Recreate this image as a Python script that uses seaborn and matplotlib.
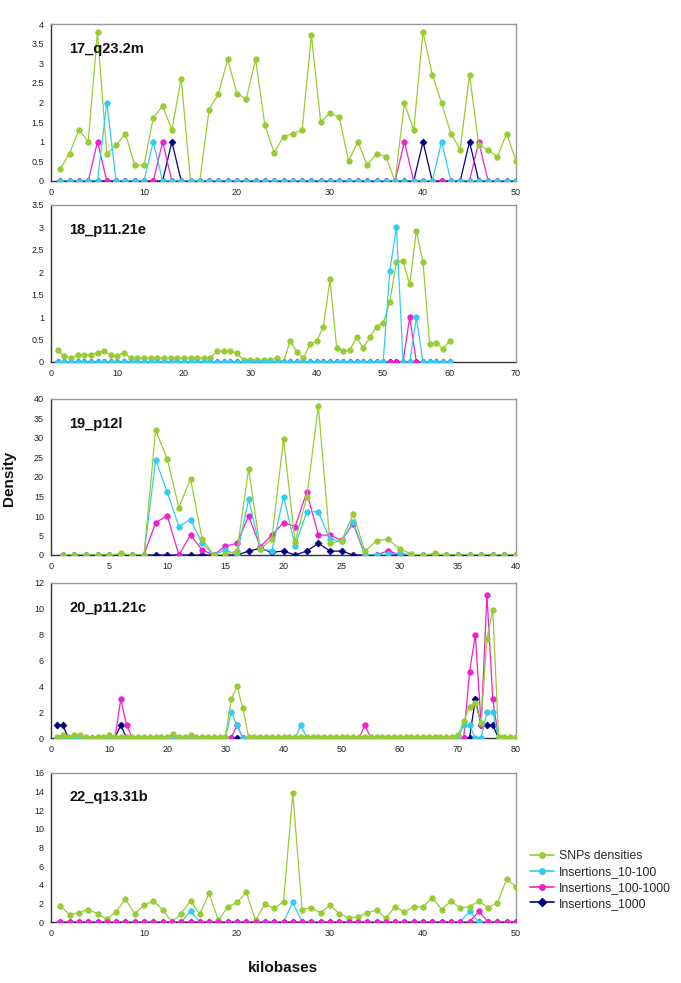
import numpy as np
import matplotlib
matplotlib.use("Agg")
import matplotlib.pyplot as plt
from matplotlib.lines import Line2D
from matplotlib.ticker import FuncFormatter
import seaborn as sns

sns.set_style("white")
plt.rcParams['font.family'] = ['Liberation Sans', 'DejaVu Sans']

# ---- data ----
series_names = ['SNPs densities', 'Insertions_10-100', 'Insertions_100-1000', 'Insertions_1000']
series_colors = ['#99cc33', '#33ccee', '#ee22cc', '#000080']
series_markers = ['o', 'o', 'o', 'D']

# 17_q23.2m  (x = 1..50)
p17_snp = [0.31, 0.7, 1.31, 1.0, 3.8, 0.7, 0.91, 1.21, 0.4, 0.4,
           1.61, 1.91, 1.31, 2.6, 0, 0, 1.82, 2.22, 3.1, 2.22,
           2.1, 3.1, 1.42, 0.72, 1.13, 1.21, 1.3, 3.72, 1.5, 1.73,
           1.62, 0.51, 1.0, 0.4, 0.7, 0.62, 0, 1.98, 1.3, 3.8,
           2.71, 1.98, 1.21, 0.8, 2.71, 0.91, 0.8, 0.62, 1.21, 0.51]
p17_ins10 = [0, 0, 0, 0, 0, 2, 0, 0, 0, 0,
             1, 0, 0, 0, 0, 0, 0, 0, 0, 0,
             0, 0, 0, 0, 0, 0, 0, 0, 0, 0,
             0, 0, 0, 0, 0, 0, 0, 0, 0, 0,
             0, 1, 0, 0, 0, 0, 0, 0, 0, 0]
p17_ins100 = [0, 0, 0, 0, 1, 0, 0, 0, 0, 0,
              0, 1, 0, 0, 0, 0, 0, 0, 0, 0,
              0, 0, 0, 0, 0, 0, 0, 0, 0, 0,
              0, 0, 0, 0, 0, 0, 0, 1, 0, 0,
              0, 0, 0, 0, 0, 1, 0, 0, 0, 0]
p17_ins1000 = [0, 0, 0, 0, 0, 0, 0, 0, 0, 0,
               0, 0, 1, 0, 0, 0, 0, 0, 0, 0,
               0, 0, 0, 0, 0, 0, 0, 0, 0, 0,
               0, 0, 0, 0, 0, 0, 0, 0, 0, 1,
               0, 0, 0, 0, 1, 0, 0, 0, 0, 0]

# 18_p11.21e  (x = 1..60)
p18_snp = [0.26, 0.13, 0.09, 0.16, 0.16, 0.16, 0.21, 0.24, 0.16, 0.14,
           0.21, 0.09, 0.09, 0.09, 0.09, 0.09, 0.09, 0.09, 0.09, 0.09,
           0.09, 0.09, 0.09, 0.09, 0.24, 0.24, 0.24, 0.2, 0.04, 0.04,
           0.05, 0.04, 0.04, 0.09, 0, 0.47, 0.23, 0.08, 0.4, 0.46,
           0.79, 1.84, 0.32, 0.24, 0.27, 0.55, 0.31, 0.55, 0.79, 0.87,
           1.33, 2.24, 2.25, 1.73, 2.92, 2.22, 0.41, 0.42, 0.3, 0.46]
p18_ins10 = [0, 0, 0, 0, 0, 0, 0, 0, 0, 0,
             0, 0, 0, 0, 0, 0, 0, 0, 0, 0,
             0, 0, 0, 0, 0, 0, 0, 0, 0, 0,
             0, 0, 0, 0, 0, 0, 0, 0, 0, 0,
             0, 0, 0, 0, 0, 0, 0, 0, 0, 0,
             2.03, 3.0, 0, 0, 1.0, 0, 0, 0, 0, 0]
p18_ins100 = [0, 0, 0, 0, 0, 0, 0, 0, 0, 0,
              0, 0, 0, 0, 0, 0, 0, 0, 0, 0,
              0, 0, 0, 0, 0, 0, 0, 0, 0, 0,
              0, 0, 0, 0, 0, 0, 0, 0, 0, 0,
              0, 0, 0, 0, 0, 0, 0, 0, 0, 0,
              0, 0, 0, 1.0, 0, 0, 0, 0, 0, 0]
p18_ins1000 = [0, 0, 0, 0, 0, 0, 0, 0, 0, 0,
               0, 0, 0, 0, 0, 0, 0, 0, 0, 0,
               0, 0, 0, 0, 0, 0, 0, 0, 0, 0,
               0, 0, 0, 0, 0, 0, 0, 0, 0, 0,
               0, 0, 0, 0, 0, 0, 0, 0, 0, 0,
               0, 0, 0, 0, 0, 0, 0, 0, 0, 0]

# 19_p12l  (x = 1..40)
p19_snp = [0, 0, 0, 0, 0, 0.4, 0, 0, 32.0, 24.6,
           12.1, 19.6, 4.1, 0, 0.2, 1.0, 22.1, 1.5, 4.1, 29.7,
           3.4, 14.8, 38.2, 3.0, 3.7, 10.5, 0.9, 3.7, 4.0, 1.6,
           0.2, 0, 0.4, 0, 0, 0, 0, 0, 0, 0]
p19_ins10 = [0, 0, 0, 0, 0, 0, 0, 0, 24.4, 16.1,
             7.3, 9.1, 3.0, 0, 1.3, 0, 14.3, 1.5, 1.1, 15.0,
             2.3, 11.1, 11.1, 4.0, 3.7, 8.4, 0, 0, 0.2, 0.5,
             0, 0, 0, 0, 0, 0, 0, 0, 0, 0]
p19_ins100 = [0, 0, 0, 0, 0, 0, 0, 0, 8.3, 10.1,
              0, 5.1, 1.3, 0, 2.3, 3.0, 10.0, 2.1, 5.1, 8.3,
              7.3, 16.1, 5.1, 5.1, 3.8, 8.0, 0, 0, 1.1, 0,
              0, 0, 0, 0, 0, 0, 0, 0, 0, 0]
p19_ins1000 = [0, 0, 0, 0, 0, 0, 0, 0, 0, 0,
               0, 0, 0, 0, 0, 0, 1.0, 1.7, 0.7, 1.0,
               0, 1.0, 3.0, 1.0, 1.0, 0, 0, 0, 0, 0,
               0, 0, 0, 0, 0, 0, 0, 0, 0, 0]

# 20_p11.21c  (x = 1..80)
p20_snp = [0.1, 0.2, 0.1, 0.2, 0.2, 0.1, 0, 0.1, 0.1, 0.2,
           0.1, 0.1, 0.1, 0.1, 0.1, 0.1, 0.1, 0.1, 0.1, 0.1,
           0.3, 0.1, 0.1, 0.2, 0.1, 0.1, 0.1, 0.1, 0.1, 0.1,
           3.0, 4.0, 2.3, 0.1, 0.1, 0.1, 0.1, 0.1, 0.1, 0.1,
           0.1, 0.1, 0.1, 0.1, 0.1, 0.1, 0.1, 0.1, 0.1, 0.1,
           0.1, 0.1, 0.1, 0.1, 0.1, 0.1, 0.1, 0.1, 0.1, 0.1,
           0.1, 0.1, 0.1, 0.1, 0.1, 0.1, 0.1, 0.1, 0.1, 0.2,
           1.3, 2.4, 2.7, 1.2, 7.7, 9.9, 0.1, 0.1, 0.1, 0.1]
p20_ins10 = [0, 0, 0, 0, 0, 0, 0, 0, 0, 0,
             0, 0, 0, 0, 0, 0, 0, 0, 0, 0,
             0, 0, 0, 0, 0, 0, 0, 0, 0, 0,
             2.0, 1.0, 0, 0, 0, 0, 0, 0, 0, 0,
             0, 0, 1.0, 0, 0, 0, 0, 0, 0, 0,
             0, 0, 0, 0, 0, 0, 0, 0, 0, 0,
             0, 0, 0, 0, 0, 0, 0, 0, 0, 0,
             1.0, 1.0, 0, 0, 2.0, 2.0, 0, 0, 0, 0]
p20_ins100 = [0, 0, 0, 0, 0, 0, 0, 0, 0, 0,
              0, 3.0, 1.0, 0, 0, 0, 0, 0, 0, 0,
              0, 0, 0, 0, 0, 0, 0, 0, 0, 0,
              0, 1.0, 0, 0, 0, 0, 0, 0, 0, 0,
              0, 0, 0, 0, 0, 0, 0, 0, 0, 0,
              0, 0, 0, 1.0, 0, 0, 0, 0, 0, 0,
              0, 0, 0, 0, 0, 0, 0, 0, 0, 0,
              0, 5.1, 8.0, 1.0, 11.1, 3.0, 0, 0, 0, 0]
p20_ins1000 = [1.0, 1.0, 0, 0, 0, 0, 0, 0, 0, 0,
               0, 1.0, 0, 0, 0, 0, 0, 0, 0, 0,
               0, 0, 0, 0, 0, 0, 0, 0, 0, 0,
               0, 0, 0, 0, 0, 0, 0, 0, 0, 0,
               0, 0, 0, 0, 0, 0, 0, 0, 0, 0,
               0, 0, 0, 0, 0, 0, 0, 0, 0, 0,
               0, 0, 0, 0, 0, 0, 0, 0, 0, 0,
               0, 0, 3.0, 1.0, 1.0, 1.0, 0, 0, 0, 0]

# 22_q13.31b  (x = 1..50)
p22_snp = [1.7, 0.8, 1.0, 1.34, 0.9, 0.29, 1.12, 2.46, 0.9, 1.8,
           2.24, 1.34, 0, 0.9, 2.28, 0.83, 3.07, 0.18, 1.63, 2.1,
           3.18, 0.18, 1.92, 1.45, 2.17, 13.8, 1.34, 1.52, 1.0, 1.8,
           0.9, 0.47, 0.54, 1.0, 1.27, 0.43, 1.63, 1.08, 1.63, 1.63,
           2.6, 1.34, 2.24, 1.52, 1.63, 2.24, 1.52, 2.06, 4.6, 3.8]
p22_ins10 = [0, 0, 0, 0, 0, 0, 0, 0, 0, 0,
             0, 0, 0, 0, 1.16, 0, 0, 0, 0, 0,
             0, 0, 0, 0, 0, 2.1, 0, 0, 0, 0,
             0, 0, 0, 0, 0, 0, 0, 0, 0, 0,
             0, 0, 0, 0, 1.16, 0, 0, 0, 0, 0]
p22_ins100 = [0, 0, 0, 0, 0, 0, 0, 0, 0, 0,
              0, 0, 0, 0, 0, 0, 0, 0, 0, 0,
              0, 0, 0, 0, 0, 0, 0, 0, 0, 0,
              0, 0, 0, 0, 0, 0, 0, 0, 0, 0,
              0, 0, 0, 0, 0, 1.16, 0, 0, 0, 0]
p22_ins1000 = [0, 0, 0, 0, 0, 0, 0, 0, 0, 0,
               0, 0, 0, 0, 0, 0, 0, 0, 0, 0,
               0, 0, 0, 0, 0, 0, 0, 0, 0, 0,
               0, 0, 0, 0, 0, 0, 0, 0, 0, 0,
               0, 0, 0, 0, 0, 0, 0, 0, 0, 0]

panel_titles = ['17_q23.2m', '18_p11.21e', '19_p12l', '20_p11.21c', '22_q13.31b']
panel_series = [
    [p17_snp, p17_ins10, p17_ins100, p17_ins1000],
    [p18_snp, p18_ins10, p18_ins100, p18_ins1000],
    [p19_snp, p19_ins10, p19_ins100, p19_ins1000],
    [p20_snp, p20_ins10, p20_ins100, p20_ins1000],
    [p22_snp, p22_ins10, p22_ins100, p22_ins1000],
]
panel_xmax = [50, 70, 40, 80, 50]
panel_xstep = [10, 10, 5, 10, 10]
panel_ymax = [4, 3.5, 40, 12, 16]
panel_ystep = [0.5, 0.5, 5, 2, 2]
# which series sits on top along the zero line
panel_top = [1, 1, 0, 0, 2]

# axes boxes in pixels (top, bottom)
W, H = 681, 983
panel_px = [(24, 181), (205, 362), (399, 555), (583, 738), (773, 922)]
left_px, right_px = 51, 516

fig = plt.figure(figsize=(W / 100, H / 100), dpi=100)
fmt = FuncFormatter(lambda v, p: '{:g}'.format(v))

for i, (top, bot) in enumerate(panel_px):
    ax = fig.add_axes([left_px / W, 1 - bot / H, (right_px - left_px) / W, (bot - top) / H])
    series = panel_series[i]
    for k, vals in enumerate(series):
        xs = np.arange(1, len(vals) + 1)
        z = 5 if k == panel_top[i] else 3 - k * 0.1
        sns.lineplot(x=xs, y=vals, ax=ax, color=series_colors[k],
                     marker=series_markers[k], markersize=4 if k < 3 else 3.5,
                     markeredgecolor=series_colors[k], markeredgewidth=0.5,
                     linewidth=0.9, errorbar=None, legend=False, zorder=z)
    ax.set_xlim(0, panel_xmax[i])
    ax.set_ylim(0, panel_ymax[i])
    ax.set_xticks(np.arange(0, panel_xmax[i] + 0.01, panel_xstep[i]))
    ax.set_yticks(np.arange(0, panel_ymax[i] + 0.001, panel_ystep[i]))
    ax.yaxis.set_major_formatter(fmt)
    ax.set_xlabel('')
    ax.set_ylabel('')
    ax.tick_params(axis='both', direction='out', length=3, width=0.8,
                   labelsize=6.5, colors='#222222', pad=2)
    for s in ['top', 'right']:
        ax.spines[s].set_color('#999999')
        ax.spines[s].set_linewidth(1.0)
    for s in ['left', 'bottom']:
        ax.spines[s].set_color('#333333')
        ax.spines[s].set_linewidth(1.0)
    ax.spines['bottom'].set_zorder(1)
    ax.text(0.04, 0.84, panel_titles[i], transform=ax.transAxes,
            fontsize=10.5, fontweight='bold', ha='left', va='center', color='#111111')

fig.text(283 / W, 1 - 968 / H, 'kilobases', fontsize=11, fontweight='bold',
         ha='center', va='center', color='#111111')
fig.text(9 / W, 1 - 478 / H, 'Density', fontsize=11, fontweight='bold',
         rotation=90, ha='center', va='center', color='#111111')

handles = [Line2D([0], [0], color=c, marker=m, markersize=4, markeredgecolor=c, linewidth=1.2)
           for c, m in zip(series_colors, series_markers)]
fig.legend(handles, series_names, loc='upper left',
           bbox_to_anchor=(530 / W, 1 - 850 / H), frameon=False, fontsize=8.8,
           handlelength=2.0, handletextpad=0.35, labelspacing=0.32, borderaxespad=0,
           borderpad=0)

fig.savefig('out.png', dpi=100)
